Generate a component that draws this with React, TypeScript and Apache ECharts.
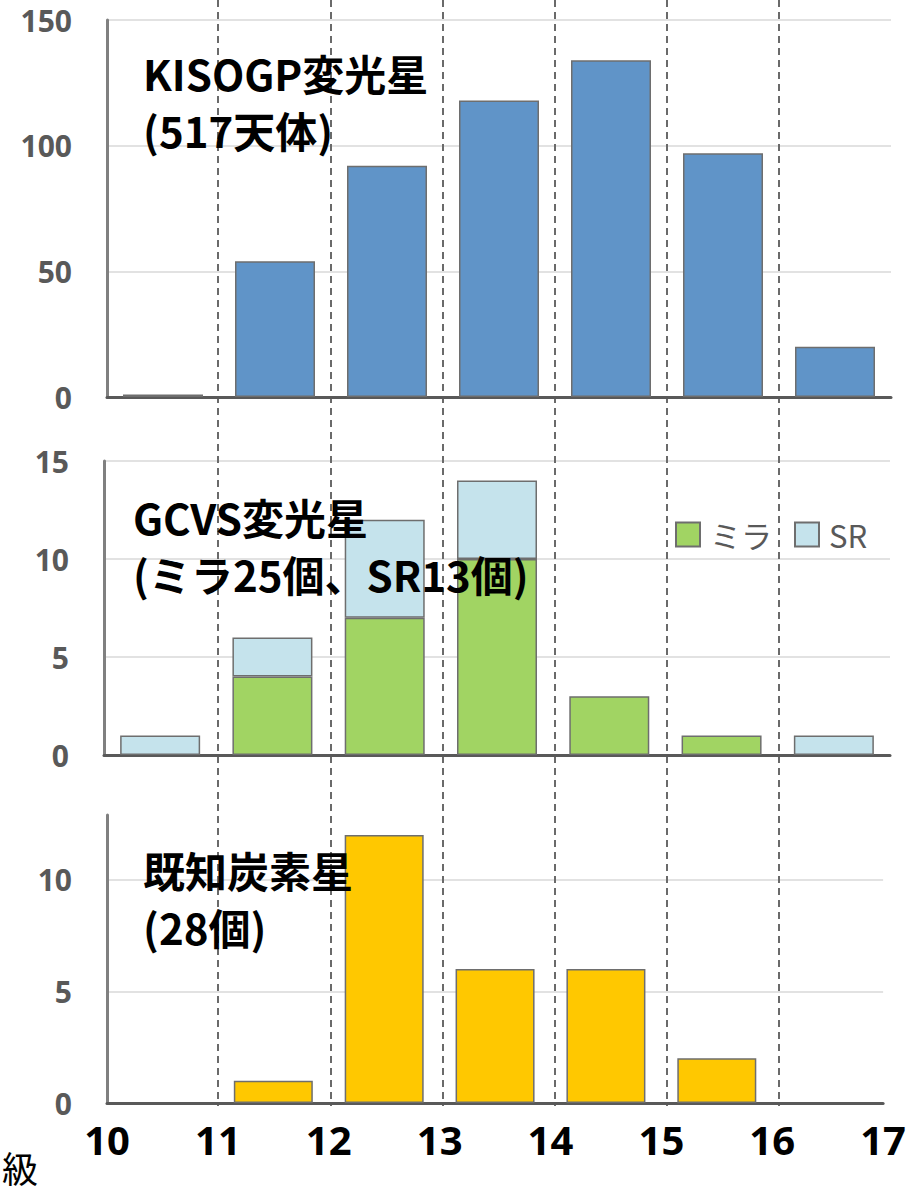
import React, { useEffect, useRef } from 'react';
import * as echarts from 'echarts';

// magnitude bins (centre of each 1-mag bin)
const binCenters = [10.5, 11.5, 12.5, 13.5, 14.5, 15.5, 16.5];
// KISOGP variables (517)
const kisoCounts = [1, 54, 92, 118, 134, 97, 20];
// GCVS variables: Mira (25) and SR (13)
const miraCounts = [0, 4, 7, 10, 3, 1, 0];
const srCounts = [1, 2, 5, 4, 0, 0, 1];
// known carbon stars (28)
const carbonCounts = [0, 1, 12, 6, 6, 2, 0];

const panelTitles = [
  'KISOGP変光星\n(517天体)',
  'GCVS変光星\n(ミラ25個、SR13個)',
  '既知炭素星\n(28個)',
];
const seriesNames = ['KISOGP', 'ミラ', 'SR', '炭素星'];
const xAxisName = '級';

const toPairs = (vals: number[]) =>
  vals.map((v, i) => [binCenters[i], v === 0 ? null : v]);
const nz = (vals: number[]) => vals.map((v) => (v === 0 ? null : v));

const CJK = '"Noto Sans CJK JP", "Noto Sans", sans-serif';
const LAT = '"Noto Sans", "Noto Sans CJK JP", sans-serif';

const barBorder = { borderColor: '#6e6e6e', borderWidth: 1.5 };

export default function App() {
  const ref = useRef<HTMLDivElement>(null);
  useEffect(() => {
    if (!ref.current) return;
    const chart = echarts.init(ref.current, undefined, { renderer: 'svg' });

    const titleStyle = {
      fontSize: 42,
      fontWeight: 'bold' as const,
      color: '#000000',
      fontFamily: CJK,
      lineHeight: 57,
    };

    const axisLineStyle = { show: true, onZero: true, lineStyle: { color: '#595959', width: 3 } };

    const baseX = (gridIndex: number, showLabels: boolean) => ({
      type: 'value',
      gridIndex,
      min: 10,
      max: 17,
      interval: 1,
      axisLine: axisLineStyle,
      axisTick: { show: false },
      splitLine: { show: false },
      axisLabel: showLabels
        ? {
            show: true,
            fontSize: 40,
            fontWeight: 'bold',
            color: '#000000',
            fontFamily: LAT,
            margin: 16,
          }
        : { show: false },
    });

    const baseY = (gridIndex: number, max: number, interval: number, padTop: number) => ({
      type: 'value',
      gridIndex,
      min: 0,
      max,
      interval,
      axisLine: { show: true, lineStyle: { color: '#808080', width: 3 } },
      axisTick: { show: false },
      splitLine: { show: true, showMaxLine: true, lineStyle: { color: '#d9d9d9', width: 1.5 } },
      axisLabel: {
        show: true,
        fontSize: 30,
        lineHeight: 30,
        fontWeight: 'bold',
        color: '#595959',
        fontFamily: LAT,
        margin: 35,
        padding: [padTop, 0, 0, 0],
      },
    });

    const bottomY: any = baseY(2, 12.9, 5, 6);
    bottomY.splitLine.showMaxLine = false;
    bottomY.axisLabel.showMaxLabel = false;

    const option: any = {
      animation: false,
      backgroundColor: '#ffffff',
      title: [
        { text: panelTitles[0], left: 143, top: 44, padding: 0, textStyle: titleStyle },
        { text: panelTitles[1], left: 133, top: 488, padding: 0, textStyle: titleStyle },
        { text: panelTitles[2], left: 143, top: 841, padding: 0, textStyle: titleStyle },
        {
          text: xAxisName,
          left: 2,
          top: 1148,
          padding: 0,
          textStyle: {
            fontSize: 36,
            lineHeight: 38,
            fontWeight: 'normal',
            color: '#000000',
            fontFamily: CJK,
          },
        },
      ],
      legend: {
        data: [seriesNames[1], seriesNames[2]],
        left: 675,
        top: 519,
        itemWidth: 24,
        itemHeight: 24,
        itemGap: 22,
        icon: 'rect',
        padding: 0,
        textStyle: {
          fontSize: 31,
          color: '#595959',
          fontFamily: CJK,
          padding: [0, 0, 0, 5],
        },
      },
      grid: [
        { left: 107, right: 18, top: 20, height: 377 },
        { left: 104, right: 19, top: 461, height: 294 },
        { left: 107, right: 18, top: 815, height: 288 },
        { left: 106, right: 18, top: 0, height: 1106 },
      ],
      xAxis: [
        baseX(0, false),
        {
          type: 'category',
          gridIndex: 1,
          data: binCenters.map(String),
          boundaryGap: true,
          axisLine: axisLineStyle,
          axisTick: { show: false },
          axisLabel: { show: false },
          splitLine: { show: false },
        },
        baseX(2, true),
        {
          type: 'value',
          gridIndex: 3,
          min: 10,
          max: 17,
          interval: 1,
          axisLine: { show: false },
          axisTick: { show: false },
          axisLabel: { show: false },
          splitLine: {
            show: true,
            showMinLine: false,
            showMaxLine: false,
            lineStyle: { color: '#6a6a6a', width: 2, type: [7, 5] },
          },
        },
      ],
      yAxis: [
        baseY(0, 150, 50, 0),
        baseY(1, 15, 5, 4),
        bottomY,
        {
          type: 'value',
          gridIndex: 3,
          min: 0,
          max: 1,
          show: false,
        },
      ],
      series: [
        {
          name: seriesNames[0],
          type: 'bar',
          xAxisIndex: 0,
          yAxisIndex: 0,
          barWidth: 80,
          data: toPairs(kisoCounts),
          itemStyle: { color: '#6094c8', ...barBorder },
        },
        {
          name: seriesNames[1],
          type: 'bar',
          stack: 'gcvs',
          xAxisIndex: 1,
          yAxisIndex: 1,
          barWidth: 80,
          data: nz(miraCounts),
          itemStyle: { color: '#a1d463', ...barBorder },
        },
        {
          name: seriesNames[2],
          type: 'bar',
          stack: 'gcvs',
          xAxisIndex: 1,
          yAxisIndex: 1,
          barWidth: 80,
          data: nz(srCounts),
          itemStyle: { color: '#c5e3ec', ...barBorder },
        },
        {
          name: seriesNames[3],
          type: 'bar',
          xAxisIndex: 2,
          yAxisIndex: 2,
          barWidth: 79,
          data: toPairs(carbonCounts),
          itemStyle: { color: '#ffc800', ...barBorder },
        },
        {
          type: 'scatter',
          xAxisIndex: 3,
          yAxisIndex: 3,
          data: [],
          silent: true,
        },
      ],
    };

    chart.setOption(option);
    return () => chart.dispose();
  }, []);

  return (
    <div
      ref={ref}
      style={{ position: 'absolute', left: 0, top: 0, width: 909, height: 1192, background: '#fff' }}
    />
  );
}
